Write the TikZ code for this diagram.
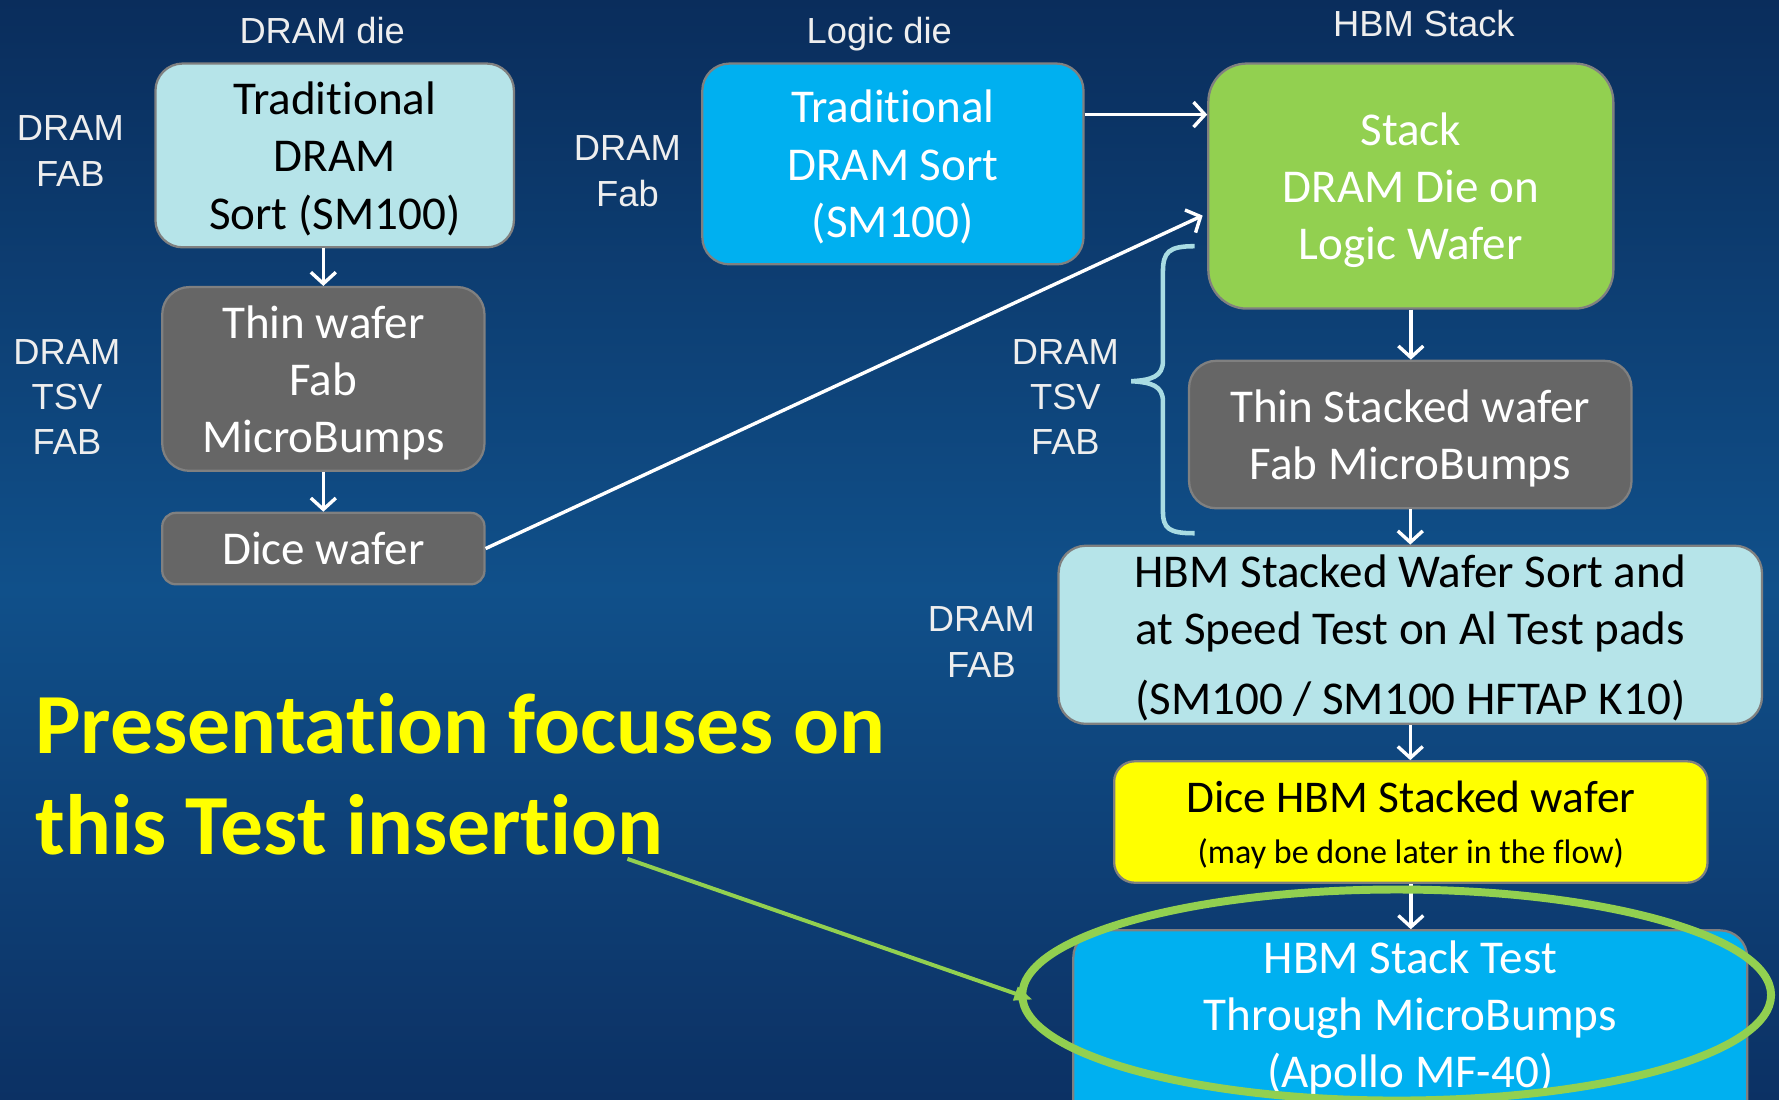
\documentclass[tikz,border=0pt]{standalone}
\usepackage{fontspec}
\setmainfont[Ligatures=NoCommon,RawFeature={-liga;-calt}]{Carlito}
\newfontfamily\arialf{Liberation Sans}
\usetikzlibrary{arrows.meta,calc,shapes.geometric}
\definecolor{bgtop}{HTML}{0A2D5C}
\definecolor{bgmid}{HTML}{10508A}
\definecolor{bgbot}{HTML}{0C3164}
\definecolor{lcyan}{HTML}{B6E4E9}
\definecolor{dgray}{HTML}{666666}
\definecolor{sky}{HTML}{00B0F0}
\definecolor{lgreen}{HTML}{92D050}
\definecolor{yel}{HTML}{FFFF00}
\definecolor{boxedge}{HTML}{808080}
\definecolor{lbltxt}{HTML}{EEEEEE}
\definecolor{bracec}{HTML}{A9DCE3}
\begin{document}
\begin{tikzpicture}[x=1pt,y=-1pt,
  box/.style={draw=boxedge, line width=2pt, rounded corners=24pt, align=center, inner sep=0pt,
    text depth=0pt, font=\fontsize{41.5}{50.5}\selectfont},
  lbl/.style={text=lbltxt, align=center, inner sep=0pt, font=\arialf\fontsize{32}{40}\selectfont},
  flow/.style={draw=white, line width=3pt, -{Straight Barb[length=10pt,width=22pt]}},
  ptr/.style={draw=lgreen, line width=3.5pt, -{Triangle[length=16pt,width=12pt]}}]
\useasboundingbox (0,0) rectangle (1568,969);
\clip (0,0) rectangle (1568,969);
\shade[top color=bgtop, bottom color=bgmid] (0,0) rectangle (1568,520);
\shade[top color=bgmid, bottom color=bgbot] (0,519) rectangle (1568,969);

% column titles
\node[lbl] (tdram) at (284,27) {DRAM die};
\node[lbl] (tlogic) at (775,30) {Logic die};
\node[lbl] (thbm) at (1255,21) {HBM Stack};

% side labels
\node[lbl] (l1) at (62,133) {DRAM\\FAB};
\node[lbl] (l2) at (59,350) {DRAM\\TSV\\FAB};
\node[lbl] (l3) at (553,151) {DRAM\\Fab};
\node[lbl] (l4) at (939,350) {DRAM\\TSV\\FAB};
\node[lbl] (l5) at (865,566) {DRAM\\FAB};

% boxes
\node[box, fill=lcyan, text=black, minimum width=316pt, minimum height=162pt] (b1) at (295,137)
  {Traditional\\DRAM\\Sort (SM100)};
\node[box, fill=dgray, text=white, minimum width=284pt, minimum height=162pt] (b2) at (285,334)
  {Thin wafer\\Fab\\MicroBumps};
\node[box, fill=dgray, text=white, rounded corners=12pt, minimum width=284pt, minimum height=63pt] (b3) at (285,483.5)
  {Dice wafer};
\node[box, fill=sky, text=white, minimum width=336pt, minimum height=177pt] (b4) at (787,144.5)
  {Traditional\\DRAM Sort\\(SM100)};
\node[box, fill=lgreen, text=white, rounded corners=34pt, minimum width=357pt, minimum height=216pt] (b5) at (1243.5,164)
  {Stack\\DRAM Die on\\Logic Wafer};
\node[box, fill=dgray, text=white, minimum width=390pt, minimum height=130pt] (b6) at (1243,383)
  {Thin Stacked wafer\\Fab MicroBumps};
\node[box, fill=lcyan, text=black, minimum width=620pt, minimum height=157pt] (b7) at (1243,559.5)
  {HBM Stacked Wafer Sort and\\at Speed Test on Al Test pads\\[11pt](SM100 / SM100 HFTAP K10)};
\node[box, fill=yel, text=black, rounded corners=18pt, minimum width=523pt, minimum height=107pt,
  font=\fontsize{30}{45}\selectfont] (b8) at (1243.5,724.5)
  {{\fontsize{40}{45}\selectfont Dice HBM Stacked wafer}\\(may be done later in the flow)};
\node[box, fill=sky, text=white, minimum width=594pt, minimum height=200pt] (b9) at (1243,920)
  {};
\node[text=white, align=center, inner sep=0pt, text depth=0pt, font=\fontsize{41.5}{50.5}\selectfont] (b9t) at (1243,894)
  {HBM Stack Test\\Through MicroBumps\\(Apollo MF-40)};

% connectors
\coordinate (y101) at (0,101);
\coordinate (b5in) at (1060,190);
\draw[flow] (b1.south -| b2) -- (b2.north);
\draw[flow] (b2.south) -- (b3.north);
\draw[flow] (b3.east) -- (b5in);
\draw[flow] (b4.east |- y101) -- (b5.west |- y101);
\draw[flow] (b5.south) -- (b5.south |- b6.north);
\draw[flow] (b6.south) -- (b6.south |- b7.north);
\draw[flow] (b7.south) -- (b7.south |- b8.north);
\draw[flow] (b8.south) -- (b8.south |- b9.north);

% brace
\draw[bracec, line width=4pt] (1053,217) .. controls (1030,217) and (1025,222) .. (1025,240)
  -- (1025,318) .. controls (1025,332) and (1015,335) .. (997,336)
  .. controls (1015,337) and (1025,340) .. (1025,354)
  -- (1025,450) .. controls (1025,466) and (1030,470) .. (1053,470);

% highlight
\node[draw=lgreen, line width=7pt, ellipse, minimum width=660pt, minimum height=186pt, inner sep=0pt] (ring) at (1231,877) {};
\node[text=yel, anchor=west, align=left, inner sep=0pt, font=\bfseries\fontsize{75.5}{89}\selectfont] (title) at (31,682)
  {Presentation focuses on\\this Test insertion};
\coordinate (ptrS) at (553,757);
\coordinate (ptrE) at (910,881);
\draw[ptr] (ptrS) -- (ptrE);
\end{tikzpicture}
\end{document}
